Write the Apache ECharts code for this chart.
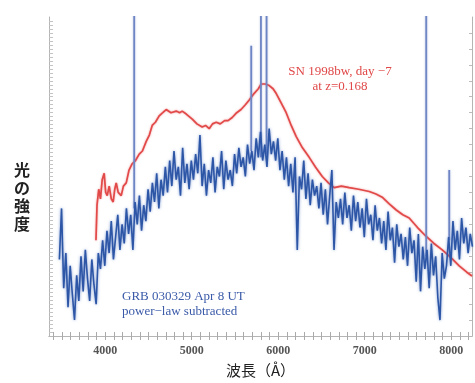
<!DOCTYPE html>
<html>
<head>
<meta charset="utf-8">
<script src="https://cdn.jsdelivr.net/npm/echarts@6/dist/echarts.min.js"></script>
<style>
  html, body { margin: 0; padding: 0; background: #fff; }
  #chart { width: 475px; height: 383px; }
</style>
</head>
<body>
<div id="chart"></div>
<script>
// GRB 030329 スペクトル (波長グリッド 3470Å から 25Å 刻み)
const waveStart = 3470;
const waveStep = 25;
const blueFlux = [
  24, 40, 15, 26, 9, 22, 13, 5, 19, 11,
  25, 14, 27, 18, 11, 24, 16, 10, 26, 21,
  30, 22, 33, 26, 36, 24, 31, 38, 27, 35,
  29, 40, 32, 38, 27, 42, 35, 44, 33, 41,
  36, 46, 39, 48, 42, 51, 40, 49, 44, 53,
  45, 55, 47, 58, 49, 53, 44, 59, 48, 54,
  46, 55, 49, 57, 51, 63, 47, 54, 44, 52,
  48, 56, 45, 53, 50, 58, 46, 55, 49, 52,
  47, 57, 51, 59, 53, 56, 50, 60, 54, 58,
  52, 62, 56, 64, 55, 60, 53, 65, 57, 61,
  55, 62, 52, 58, 49, 56, 47, 54, 45, 56,
  27, 50, 46, 55, 43, 51, 41, 49, 44, 47,
  40, 48, 38, 46, 35, 44, 52, 27, 42, 37,
  43, 35, 45, 37, 41, 33, 44, 36, 42, 34,
  40, 31, 43, 35, 38, 30, 41, 33, 37, 29,
  36, 27, 39, 30, 34, 23, 35, 28, 32, 24,
  31, 22, 34, 26, 30, 17, 32, 14, 28, 21,
  27, 15, 29, 19, 25, 12, 5, 26, 18, 22,
  31, 22, 36, 27, 33, 24, 37, 29, 34, 26, 32, 28
];

// 輝線 (波長, 下端, 上端)
const lineWave = [4335, 5688, 5800, 5865, 7711, 7977];
const lineBase = [40, 58, 56, 57, 25, 30];
const lineTop = [105, 91, 105, 105, 105, 52];

// SN 1998bw テンプレート
const redWave = [3893, 3905, 3925, 3945, 3965, 3988, 4005, 4023, 4046, 4070,
  4092, 4110, 4127, 4150, 4185, 4210, 4243, 4275, 4312, 4350,
  4393, 4430, 4474, 4510, 4543, 4580, 4624, 4665, 4705, 4760,
  4821, 4860, 4890, 4940, 5006, 5060, 5121, 5160, 5202, 5240,
  5283, 5330, 5380, 5420, 5468, 5520, 5570, 5620, 5665, 5720,
  5770, 5803, 5850, 5896, 5940, 5977, 6035, 6092, 6150, 6208,
  6280, 6358, 6430, 6509, 6580, 6647, 6730, 6821, 6930, 7052,
  7130, 7202, 7280, 7364, 7440, 7514, 7610, 7711, 7800, 7896,
  8000, 8092, 8180, 8240];
const redFlux = [30, 41, 46, 43, 49, 51, 45, 44, 47, 43,
  42, 46, 48, 45, 44, 47, 48, 52, 54, 55,
  57, 58, 61, 63, 66, 67, 69, 70, 71, 70,
  70.5, 70, 70.5, 69.5, 68, 66.5, 65.5, 66, 65, 66.5,
  67, 66.5, 67.5, 67.5, 68.5, 70, 71, 72.5, 74, 76,
  77.5, 79, 79, 78.5, 77.5, 76, 73, 70, 66, 62.5,
  59, 56, 53, 50, 48, 46.5, 47, 46.5, 46, 45.3,
  44.5, 43.5, 41.5, 39.5, 38, 37, 34, 31.2, 29, 27,
  24.5, 22, 20, 18.8];

const xTickLabels = [4000, 5000, 6000, 7000, 8000];
const xMin = 3350, xMax = 8240;

const blueData = blueFlux.map((v, i) => [waveStart + i * waveStep, v]);
const redData = redWave.map((w, i) => [w, redFlux[i]]);
const lineData = [];
lineWave.forEach((w, i) => {
  lineData.push([w, lineBase[i]], [w, lineTop[i]], null);
});
// 目盛り位置
const xMinorTicks = [];
for (let w = 3400; w <= 8200; w += 100) xMinorTicks.push(w);
const yLeftTicks = [];
for (let v = 1.25; v < 100; v += 1.25) yLeftTicks.push(v);
const yRightTicks = [];
for (let v = 5; v < 100; v += 5) yRightTicks.push(v);

const chart = echarts.init(document.getElementById('chart'));
const frame = { show: true, lineStyle: { color: '#b5b5b5', width: 1 } };

chart.setOption({
  animation: false,
  backgroundColor: '#fff',
  grid: { left: 49, right: 3, top: 17, bottom: 46 },
  xAxis: [{
    type: 'value', min: xMin, max: xMax, position: 'bottom',
    axisLine: frame,
    splitLine: { show: false },
    axisTick: { show: true, inside: true, length: 4, customValues: xMinorTicks, lineStyle: { color: '#aaa' } },
    axisLabel: {
      customValues: xTickLabels, margin: 9,
      formatter: v => String(v),
      fontFamily: 'Liberation Serif', fontSize: 12, fontWeight: 'bold', color: '#555'
    },
    name: '波長（Å）', nameLocation: 'middle', nameGap: 27,
    nameTextStyle: { fontFamily: 'Noto Sans CJK JP', fontSize: 15, color: '#222' }
  }, {
    type: 'value', min: xMin, max: xMax, position: 'top',
    axisLine: frame,
    splitLine: { show: false },
    axisTick: { show: true, inside: true, length: 4, customValues: xMinorTicks, lineStyle: { color: '#aaa' } },
    axisLabel: { show: false }
  }],
  yAxis: [{
    type: 'value', min: 0, max: 100, position: 'left',
    axisLine: frame,
    splitLine: { show: false },
    axisTick: { show: true, inside: true, length: 4, customValues: yLeftTicks, lineStyle: { color: '#c4c4c4' } },
    axisLabel: { show: false }
  }, {
    type: 'value', min: 0, max: 100, position: 'right',
    axisLine: frame,
    splitLine: { show: false },
    axisTick: { show: true, inside: true, length: 3, customValues: yRightTicks, lineStyle: { color: '#bbb' } },
    axisLabel: { show: false }
  }],
  series: [{
    type: 'line', name: 'SN 1998bw', data: redData,
    symbol: 'none', clip: true, z: 2,
    lineStyle: { color: '#e24a4a', width: 1.7, shadowColor: 'rgba(230,80,80,0.6)', shadowBlur: 2 }
  }, {
    type: 'line', name: 'lines', data: lineData,
    symbol: 'none', clip: true, connectNulls: false, z: 3,
    lineStyle: { color: '#6f86c4', width: 1.8, shadowColor: 'rgba(110,130,200,0.5)', shadowBlur: 2 }
  }, {
    type: 'line', name: 'GRB 030329', data: blueData,
    symbol: 'none', clip: true, z: 4,
    lineStyle: { color: '#2d56a6', width: 1.6, shadowColor: 'rgba(70,110,190,0.7)', shadowBlur: 3 }
  }],
  graphic: [{
    type: 'text', left: 14, top: 161,
    style: {
      text: '光\nの\n強\n度', fontFamily: 'Noto Sans CJK JP', fontSize: 16,
      fontWeight: 'bold', lineHeight: 18, fill: '#222', textAlign: 'center'
    }
  }, {
    type: 'text', x: 340, y: 64,
    style: {
      text: 'SN 1998bw, day −7\nat z=0.168', fontFamily: 'Liberation Serif', fontSize: 13,
      lineHeight: 15, fill: '#e04848', align: 'center'
    }
  }, {
    type: 'text', x: 122, y: 289,
    style: {
      text: 'GRB 030329 Apr 8 UT\npower−law subtracted', fontFamily: 'Liberation Serif', fontSize: 13,
      lineHeight: 15, fill: '#3a5aa8', align: 'left'
    }
  }]
});
</script>
</body>
</html>
